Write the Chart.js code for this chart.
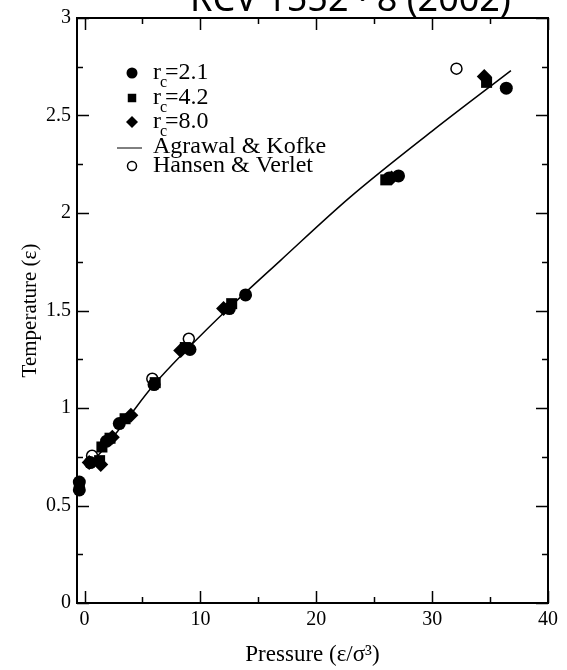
<!DOCTYPE html>
<html><head><meta charset="utf-8">
<script src="https://cdn.jsdelivr.net/npm/chart.js@4"></script>
<style>html,body{margin:0;padding:0;background:#fff;overflow:hidden}</style>
</head><body>
<canvas id="c" width="567" height="670"></canvas>
<script>
// ---- axis data ----
const xTicks = [0, 10, 20, 30, 40];
const xMinorTicks = [5, 15, 25, 35];
const yTicks = [0, 0.5, 1, 1.5, 2, 2.5, 3];
const yMinorTicks = [0.25, 0.75, 1.25, 1.75, 2.25, 2.75];
const xRange = [-0.65, 40];
const yRange = [0, 3];
const xTitle = 'Pressure (ε/σ³)';
const yTitle = 'Temperature (ε)';
const noteText = 'RCV 1552 · 8 (2002)';

// ---- series ----
const labels = ['r_c=2.1', 'r_c=4.2', 'r_c=8.0', 'Agrawal & Kofke', 'Hansen & Verlet'];
const rc21P = [-0.45, -0.45, 0.5, 1.9, 3.0, 6.0, 9.1, 12.5, 13.9, 26.3, 27.1, 36.4];
const rc21T = [0.58, 0.62, 0.72, 0.83, 0.92, 1.12, 1.30, 1.51, 1.58, 2.18, 2.19, 2.64];
const rc42P = [-0.45, 1.3, 1.5, 2.2, 3.5, 6.1, 8.7, 12.7, 26.0, 34.7];
const rc42T = [0.60, 0.73, 0.80, 0.845, 0.945, 1.13, 1.31, 1.535, 2.17, 2.67];
const rc80P = [0.4, 1.4, 2.4, 4.0, 8.3, 12.0, 26.5, 34.5];
const rc80T = [0.72, 0.71, 0.85, 0.963, 1.295, 1.51, 2.18, 2.70];
const hvP = [0.65, 5.85, 9.0, 32.1];
const hvT = [0.755, 1.15, 1.355, 2.74];
const akP = [0.3, 1.5, 3.5, 6.0, 9.0, 12.5, 16.9, 22.9, 30.0, 36.8];
const akT = [0.70, 0.78, 0.93, 1.12, 1.31, 1.515, 1.756, 2.08, 2.42, 2.73];

const pts = (xs, ys) => xs.map((x, i) => ({x, y: ys[i]}));
const SERIF = '"Liberation Serif", "Times New Roman", serif';

const datasets = [
  {label: labels[0], data: pts(rc21P, rc21T), pointStyle: 'circle', pointRadius: 6.5,
   backgroundColor: '#000', borderColor: '#000', borderWidth: 0, showLine: false, clip: false,
   legendRadius: 5.5},
  {label: labels[1], data: pts(rc42P, rc42T), pointStyle: 'rect', pointRadius: 7.8,
   backgroundColor: '#000', borderColor: '#000', borderWidth: 0, showLine: false, clip: false,
   legendRadius: 6},
  {label: labels[2], data: pts(rc80P, rc80T), pointStyle: 'rectRot', pointRadius: 7.5,
   backgroundColor: '#000', borderColor: '#000', borderWidth: 0, showLine: false, clip: false,
   legendRadius: 6},
  {label: labels[4], data: pts(hvP, hvT), pointStyle: 'circle', pointRadius: 5.5,
   backgroundColor: '#fff', borderColor: '#000', borderWidth: 1.5, showLine: false, clip: false,
   legendRadius: 4.5},
  {label: labels[3], data: pts(akP, akT), showLine: true, pointRadius: 0, borderColor: '#000',
   borderWidth: 1.5, backgroundColor: '#000', cubicInterpolationMode: 'monotone', fill: false}
];

const whiteBg = {
  id: 'whiteBg',
  beforeDraw(chart) {
    const ctx = chart.ctx;
    ctx.save(); ctx.fillStyle = '#fff'; ctx.fillRect(0, 0, chart.width, chart.height); ctx.restore();
  }
};

const frameTicks = {
  id: 'frameTicks',
  afterDatasetsDraw(chart) {
    const {ctx, chartArea: a, scales: {x, y}} = chart;
    ctx.save();
    ctx.strokeStyle = '#000';
    ctx.lineWidth = 1.5;
    ctx.beginPath();
    const xt = (vals, len) => vals.forEach(v => {
      const p = Math.round(x.getPixelForValue(v)) + 0.5;
      ctx.moveTo(p, a.bottom); ctx.lineTo(p, a.bottom - len);
      ctx.moveTo(p, a.top); ctx.lineTo(p, a.top + len);
    });
    const yt = (vals, len) => vals.forEach(v => {
      const p = Math.round(y.getPixelForValue(v)) + 0.5;
      ctx.moveTo(a.left, p); ctx.lineTo(a.left + len, p);
      ctx.moveTo(a.right, p); ctx.lineTo(a.right - len, p);
    });
    xt(xTicks, 12); xt(xMinorTicks, 6);
    yt(yTicks, 12); yt(yMinorTicks, 6);
    ctx.stroke();
    ctx.lineWidth = 2;
    ctx.strokeRect(a.left, a.top, a.right - a.left, a.bottom - a.top);
    ctx.restore();
  }
};

const innerLegend = {
  id: 'innerLegend',
  afterDraw(chart) {
    const ctx = chart.ctx;
    const order = [0, 1, 2, 4, 3];
    const ys = [73, 98, 122, 147, 166];
    const mx = 132, tx = 153;
    ctx.save();
    order.forEach((di, k) => {
      const ds = chart.data.datasets[di];
      const yy = ys[k];
      if (ds.showLine) {
        ctx.strokeStyle = '#000'; ctx.lineWidth = 1;
        ctx.beginPath(); ctx.moveTo(117, yy + 1); ctx.lineTo(142, yy + 1); ctx.stroke();
      } else {
        ctx.fillStyle = ds.backgroundColor; ctx.strokeStyle = ds.borderColor;
        ctx.lineWidth = ds.borderWidth;
        Chart.helpers.drawPoint(ctx, {pointStyle: ds.pointStyle, radius: ds.legendRadius,
          rotation: 0, borderWidth: ds.borderWidth}, mx, yy);
      }
      ctx.fillStyle = '#000';
      ctx.textBaseline = 'middle';
      ctx.textAlign = 'left';
      const lab = ds.label;
      const big = '24px ' + SERIF, small = '16px ' + SERIF;
      if (lab.indexOf('_') >= 0) {
        const [a, rest] = lab.split('_');
        const sub = rest[0], tail = rest.slice(1);
        ctx.font = big; ctx.fillText(a, tx, yy);
        const wa = ctx.measureText(a).width;
        ctx.font = small; ctx.fillText(sub, tx + wa - 1, yy + 10);
        const ws = ctx.measureText(sub).width;
        ctx.font = big; ctx.fillText(tail, tx + wa + ws * 0.55, yy);
      } else {
        ctx.font = big; ctx.fillText(lab, tx, yy);
      }
    });
    // handwritten note at the top, partly cut off
    ctx.font = '36px "Noto Sans", sans-serif';
    ctx.textBaseline = 'alphabetic';
    ctx.fillText(noteText, 190, 11);
    ctx.restore();
  }
};

new Chart(document.getElementById('c'), {
  type: 'scatter',
  data: {datasets},
  options: {
    responsive: false,
    animation: false,
    devicePixelRatio: 1,
    layout: {padding: {top: 17, right: 19, left: 0, bottom: 0}},
    plugins: {legend: {display: false}, tooltip: {enabled: false}},
    scales: {
      x: {
        type: 'linear', min: xRange[0], max: xRange[1],
        afterBuildTicks: s => { s.ticks = xTicks.map(v => ({value: v})); },
        afterFit: s => { s.height = 67; },
        grid: {display: false, drawTicks: false},
        border: {display: false},
        ticks: {color: '#000', font: {family: SERIF, size: 20}, padding: 5, maxRotation: 0,
          callback: v => String(v)},
        title: {display: true, text: xTitle, color: '#000', font: {family: SERIF, size: 23},
          padding: {top: 0, bottom: 1}}
      },
      y: {
        type: 'linear', min: yRange[0], max: yRange[1],
        afterBuildTicks: s => { s.ticks = yTicks.map(v => ({value: v})); },
        afterFit: s => { s.width = 77; },
        grid: {display: false, drawTicks: false},
        border: {display: false},
        ticks: {color: '#000', font: {family: SERIF, size: 20}, padding: 6,
          callback: v => String(v)},
        title: {display: true, text: yTitle, color: '#000', font: {family: SERIF, size: 21},
          padding: {top: 18, bottom: 0}}
      }
    }
  },
  plugins: [whiteBg, frameTicks, innerLegend]
});
</script>
</body></html>
